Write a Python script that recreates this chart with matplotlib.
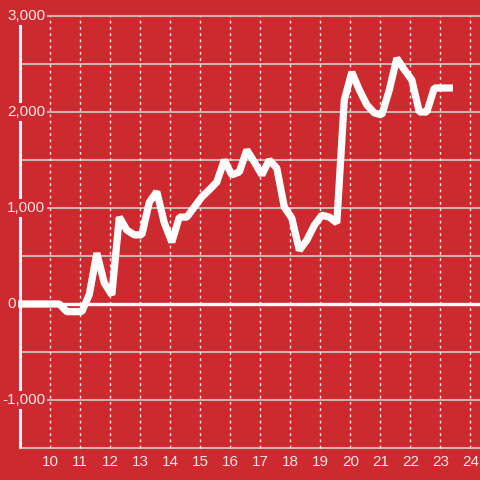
import matplotlib
matplotlib.use("Agg")
import matplotlib.pyplot as plt

# ---- data ----
x_vals = [9.05, 9.30, 9.55, 9.80, 10.05, 10.30, 10.55, 10.80, 11.05, 11.30,
          11.55, 11.80, 12.05, 12.30, 12.55, 12.80, 13.05, 13.30, 13.55, 13.80,
          14.05, 14.30, 14.55, 14.80, 15.05, 15.30, 15.55, 15.80, 16.05, 16.30,
          16.55, 16.80, 17.05, 17.30, 17.55, 17.80, 18.05, 18.30, 18.55, 18.80,
          19.05, 19.30, 19.55, 19.80, 20.05, 20.30, 20.55, 20.80, 21.05, 21.30,
          21.55, 21.80, 22.05, 22.30, 22.55, 22.80, 23.05, 23.30]
y_vals = [0, 0, 0, 0, 0, 0, -80, -80, -80, 100,
          530, 220, 95, 905, 770, 720, 720, 1060, 1170, 845,
          645, 905, 905, 1010, 1115, 1190, 1270, 1500, 1345, 1375,
          1605, 1480, 1345, 1500, 1415, 1010, 895, 560, 665, 820,
          925, 905, 845, 2125, 2415, 2230, 2075, 1990, 1970, 2230,
          2560, 2440, 2335, 2000, 2000, 2250, 2250, 2250]
x_ticks = list(range(10, 25))
x_tick_labels = [str(t) for t in x_ticks]
y_grid = [-1500, -1000, -500, 0, 500, 1000, 1500, 2000, 2500, 3000]
y_label_vals = [3000, 2000, 1000, 0, -1000]
y_label_texts = ["3,000", "2,000", "1,000", "0", "-1,000"]

BG = "#CC2A2F"
TXT = "#F6E4E4"
plt.rcParams['font.family'] = ['Liberation Sans', 'DejaVu Sans']

fig = plt.figure(figsize=(4.8, 4.8), dpi=100, facecolor=BG)
ax = fig.add_axes([0, 0, 1, 1])
ax.set_facecolor(BG)
ax.set_xlim(8.323, 24.323)
ax.set_ylim(-1833.3, 3166.7)
ax.axis('off')

x_axis = 9.0
# horizontal gridlines
for g in y_grid:
    if g == 0:
        continue
    ax.plot([x_axis, 24.5], [g, g], color="#CFCFCF", lw=1.2, zorder=1)
# vertical dotted gridlines
for t in x_ticks:
    ax.plot([t, t], [-1500, 3000], color="#EDEDED", lw=1.0,
            linestyle=(0, (2, 2.5)), zorder=1)
# zero line
ax.plot([x_axis, 24.5], [0, 0], color="white", lw=2.4, zorder=2)
# left axis line
ax.plot([x_axis, x_axis], [-1500, 3000], color="#F2F2F2", lw=2.2, zorder=2,
        solid_capstyle='butt')

# data line
ax.plot(x_vals, y_vals, color="white", lw=5.2, zorder=3,
        solid_joinstyle='bevel', solid_capstyle='projecting')

# y labels (left aligned, minus sign hanging left)
for v, s in zip(y_label_vals, y_label_texts):
    xpos = 8.39 if s.startswith('-') else 8.557
    ax.text(xpos, v, s, ha='left', va='center', fontsize=11, color=TXT,
            zorder=5,
            bbox=dict(boxstyle='square,pad=0.15', fc=BG, ec='none'))
# x labels
for t, s in zip(x_ticks, x_tick_labels):
    ax.text(t, -1646, s, ha='center', va='center', fontsize=11, color=TXT,
            zorder=5)

fig.savefig("out.png", dpi=100, facecolor=BG)
